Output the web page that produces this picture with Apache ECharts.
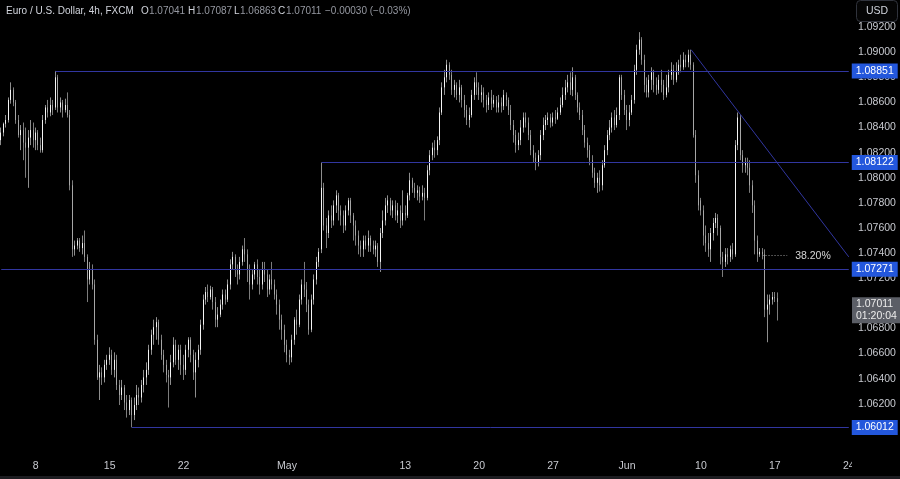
<!DOCTYPE html>
<html><head><meta charset="utf-8">
<script src="https://cdn.jsdelivr.net/npm/echarts/dist/echarts.min.js"></script>
<style>html,body{margin:0;padding:0;background:#000;}#c{width:900px;height:479px;}</style>
</head><body><div id="c"></div>
<script>
// ---- trading calendar (4h bars) ----
const aprDays = [3,4,5,8,9,10,11,12,15,16,17,18,19,22,23,24,25,26,29,30];
const mayDays = [1,2,3,6,7,8,9,10,13,14,15,16,17,20,21,22,23,24,27,28,29,30,31];
const junDays = [3,4,5,6,7,10,11,12,13,14,17,18,19,20,21,24,25,26,27,28];
const barHours = ['00','04','08','12','16','20'];
const tickDays = ['Apr 8','Apr 15','Apr 22','May 1','May 13','May 20','May 27','Jun 3','Jun 10','Jun 17','Jun 24'];
const tickText = ['8','15','22','May','13','20','27','Jun','10','17','24'];

// ---- candles [open, close, low, high] ----
const wk0403 = [
[1.0830,1.0836,1.0826,1.0840],[1.0836,1.0843,1.0833,1.0844],[1.0843,1.0846,1.0840,1.0850],[1.0846,1.0862,1.0844,1.0864],
[1.0862,1.0870,1.0859,1.0876],[1.0870,1.0860,1.0857,1.0872],[1.0860,1.0846,1.0843,1.0862],[1.0846,1.0834,1.0832,1.0850],
[1.0834,1.0838,1.0822,1.0842],[1.0838,1.0828,1.0814,1.0844],[1.0828,1.0824,1.0800,1.0840],[1.0824,1.0832,1.0792,1.0838],
[1.0832,1.0838,1.0826,1.0846],[1.0838,1.0830,1.0824,1.0844]];
const wk0408 = [
[1.0830,1.0836,1.0822,1.0840],[1.0836,1.0826,1.0822,1.0838],[1.0826,1.0822,1.0820,1.0832],[1.0822,1.0846,1.0820,1.0850],
[1.0846,1.0856,1.0843,1.0858],[1.0856,1.0852,1.0848,1.0862],[1.0852,1.0858,1.0849,1.0864],[1.0858,1.0854,1.0850,1.0862],
[1.0856,1.0880,1.0854,1.08851],[1.0880,1.0856,1.0852,1.0882],[1.0856,1.0860,1.0852,1.0864],[1.0860,1.0854,1.0848,1.0862],
[1.0854,1.0858,1.0852,1.0863],[1.0858,1.0850,1.0848,1.0868],[1.0850,1.0794,1.0790,1.0854],[1.0794,1.0743,1.0737,1.0798],
[1.0743,1.0746,1.0738,1.0750],[1.0746,1.0750,1.0743,1.0752],[1.0750,1.0744,1.0741,1.0752],[1.0744,1.0748,1.0739,1.0754],
[1.0748,1.0737,1.0733,1.0758],[1.0737,1.0719,1.0701,1.0739],[1.0719,1.0727,1.0715,1.0733],[1.0727,1.0715,1.0711,1.0731],
[1.0715,1.0671,1.0667,1.0719],[1.0671,1.0641,1.0639,1.0675],[1.0641,1.0645,1.0623,1.0651],[1.0645,1.0641,1.0635,1.0649],
[1.0641,1.0651,1.0637,1.0655],[1.0651,1.0655,1.0647,1.0659]];
const wk0415 = [
[1.0655,1.0659,1.0651,1.0665],[1.0659,1.0647,1.0643,1.0663],[1.0647,1.0655,1.0641,1.0661],[1.0655,1.0635,1.0631,1.0659],
[1.0635,1.0627,1.0619,1.0639],[1.0627,1.0633,1.0623,1.0639],[1.0633,1.0621,1.0615,1.0635],[1.0621,1.0615,1.0609,1.0627],
[1.0615,1.0623,1.0611,1.0627],[1.0623,1.0611,1.06012,1.0625],[1.0611,1.0619,1.0607,1.0625],[1.0619,1.0627,1.0615,1.0635],
[1.0627,1.0625,1.0619,1.0633],[1.0625,1.0635,1.0621,1.0639],[1.0635,1.0641,1.0629,1.0647],[1.0641,1.0647,1.0635,1.0653],
[1.0647,1.0663,1.0643,1.0667],[1.0663,1.0675,1.0659,1.0679],[1.0675,1.0681,1.0667,1.0687],[1.0681,1.0685,1.0671,1.0689],
[1.0685,1.0671,1.0667,1.0687],[1.0671,1.0659,1.0655,1.0675],[1.0659,1.0651,1.0645,1.0663],[1.0651,1.0643,1.0637,1.0655],
[1.0643,1.0641,1.0617,1.0647],[1.0641,1.0653,1.0635,1.0659],[1.0653,1.0667,1.0649,1.0673],[1.0667,1.0655,1.0651,1.0671],
[1.0655,1.0663,1.0647,1.0667],[1.0663,1.0651,1.0643,1.0667]];
const wk0422 = [
[1.0651,1.0647,1.0639,1.0659],[1.0647,1.0663,1.0643,1.0667],[1.0663,1.0671,1.0657,1.0673],[1.0671,1.0659,1.0653,1.0673],
[1.0659,1.0645,1.0639,1.0663],[1.0645,1.0655,1.0625,1.0661],[1.0655,1.0663,1.0649,1.0667],[1.0663,1.0683,1.0659,1.0687],
[1.0683,1.0703,1.0679,1.0707],[1.0703,1.0709,1.0699,1.0713],[1.0709,1.0705,1.0701,1.0715],[1.0705,1.0711,1.0703,1.0714],
[1.0711,1.0701,1.0695,1.0713],[1.0701,1.0687,1.0681,1.0705],[1.0687,1.0691,1.0681,1.0697],[1.0691,1.0699,1.0689,1.0703],
[1.0699,1.0707,1.0695,1.0711],[1.0707,1.0703,1.0699,1.0711],[1.0703,1.0715,1.0701,1.0719],[1.0715,1.0731,1.0711,1.0735],
[1.0731,1.0737,1.0727,1.0741],[1.0737,1.0727,1.0721,1.0739],[1.0727,1.0723,1.0715,1.0731],[1.0723,1.0733,1.0719,1.0737],
[1.0733,1.0743,1.0730,1.0746],[1.0743,1.0739,1.0733,1.0752],[1.0739,1.0727,1.0717,1.0743],[1.0727,1.0715,1.0703,1.0731],
[1.0715,1.0723,1.0711,1.0727],[1.0723,1.0731,1.0719,1.0733]];
const wk0429 = [
[1.0731,1.0721,1.0715,1.0735],[1.0721,1.0715,1.0707,1.0727],[1.0715,1.0727,1.0711,1.0733],[1.0727,1.0723,1.0717,1.0733],
[1.0723,1.0711,1.0705,1.0727],[1.0711,1.0719,1.0707,1.0723],[1.0719,1.0715,1.0711,1.0733],[1.0715,1.0707,1.0703,1.0719],
[1.0707,1.0699,1.0691,1.0711],[1.0699,1.0687,1.0679,1.0703],[1.0687,1.0679,1.0671,1.0691],[1.0679,1.0667,1.0661,1.0683],
[1.0667,1.0659,1.0653,1.0671],[1.0659,1.0657,1.0651,1.0663],[1.0657,1.0671,1.0653,1.0675],[1.0671,1.0687,1.0667,1.0689],
[1.0687,1.0683,1.0675,1.0695],[1.0683,1.0703,1.0681,1.0707],[1.0703,1.0715,1.0699,1.0719],[1.0715,1.0711,1.0705,1.0733],
[1.0711,1.0699,1.0693,1.0717],[1.0699,1.0679,1.0675,1.0703],[1.0679,1.0703,1.0677,1.0707],[1.0703,1.0719,1.0699,1.0723],
[1.0719,1.0733,1.0715,1.0737],[1.0733,1.0741,1.0729,1.0744],[1.0743,1.0792,1.0740,1.08122],[1.0792,1.0762,1.0758,1.0796],
[1.0762,1.0756,1.0744,1.0768],[1.0756,1.0770,1.0752,1.0774]];
const wk0506 = [
[1.0770,1.0766,1.0760,1.0778],[1.0766,1.0778,1.0762,1.0782],[1.0778,1.0786,1.0772,1.0790],[1.0786,1.0774,1.0766,1.0788],
[1.0774,1.0770,1.0762,1.0778],[1.0770,1.0762,1.0756,1.0774],[1.0762,1.0774,1.0758,1.0778],[1.0774,1.0782,1.0770,1.0784],
[1.0782,1.0770,1.0764,1.0784],[1.0770,1.0762,1.0750,1.0772],[1.0762,1.0754,1.0746,1.0766],[1.0754,1.0746,1.0739,1.0758],
[1.0746,1.0743,1.0737,1.0750],[1.0743,1.0750,1.0737,1.0754],[1.0750,1.0746,1.0743,1.0754],[1.0746,1.0752,1.0741,1.0758],
[1.0752,1.0746,1.0741,1.0754],[1.0746,1.0743,1.0739,1.0750],[1.0743,1.0746,1.0737,1.0750],[1.0746,1.0733,1.0729,1.0748],
[1.0733,1.0756,1.0725,1.0760],[1.0756,1.0766,1.0752,1.0774],[1.0766,1.0778,1.0762,1.0784],[1.0778,1.0782,1.0772,1.0786],
[1.0782,1.0774,1.0770,1.0784],[1.0774,1.0778,1.0768,1.0782],[1.0778,1.0770,1.0766,1.0782],[1.0770,1.0774,1.0764,1.0780],
[1.0774,1.0766,1.0760,1.0778],[1.0766,1.0772,1.0762,1.0790]];
const wk0513 = [
[1.0772,1.0770,1.0766,1.0778],[1.0770,1.0786,1.0768,1.0788],[1.0786,1.0798,1.0782,1.0804],[1.0798,1.0792,1.0788,1.0800],
[1.0792,1.0788,1.0784,1.0796],[1.0788,1.0790,1.0782,1.0794],[1.0790,1.0785,1.0780,1.0793],[1.0785,1.0788,1.0782,1.0794],
[1.0788,1.0784,1.0766,1.0792],[1.0784,1.0806,1.0782,1.0810],[1.0806,1.0818,1.0802,1.0822],[1.0818,1.0824,1.0814,1.0828],
[1.0824,1.0822,1.0816,1.0830],[1.0822,1.0830,1.0818,1.0833],[1.0830,1.0852,1.0826,1.0856],[1.0852,1.0872,1.0850,1.0876],
[1.0872,1.0880,1.0866,1.0886],[1.0880,1.0890,1.0876,1.0894],[1.0890,1.0882,1.0878,1.0892],[1.0882,1.0870,1.0866,1.0886],
[1.0870,1.0874,1.0864,1.0878],[1.0874,1.0866,1.0862,1.0876],[1.0866,1.0872,1.0860,1.0878],[1.0872,1.0862,1.0856,1.0874],
[1.0862,1.0854,1.0848,1.0866],[1.0854,1.0846,1.0842,1.0858],[1.0846,1.0850,1.0840,1.0856],[1.0850,1.0866,1.0848,1.0870],
[1.0866,1.0876,1.0862,1.0880],[1.0876,1.0872,1.0866,1.0884]];
const wk0520 = [
[1.0872,1.0866,1.0862,1.0876],[1.0866,1.0868,1.0860,1.0874],[1.0868,1.0862,1.0856,1.0872],[1.0862,1.0858,1.0852,1.0866],
[1.0858,1.0864,1.0854,1.0868],[1.0864,1.0859,1.0854,1.0870],[1.0859,1.0862,1.0856,1.0866],[1.0862,1.0856,1.0852,1.0865],
[1.0856,1.0860,1.0852,1.0866],[1.0860,1.0857,1.0852,1.0864],[1.0857,1.0866,1.0854,1.0870],[1.0866,1.0862,1.0857,1.0868],
[1.0862,1.0854,1.0850,1.0864],[1.0854,1.0842,1.0838,1.0858],[1.0842,1.0834,1.0828,1.0846],[1.0834,1.0826,1.0820,1.0838],
[1.0826,1.0830,1.0822,1.0836],[1.0830,1.0840,1.0826,1.0846],[1.0840,1.0848,1.0836,1.0852],[1.0848,1.0844,1.0840,1.0852],
[1.0844,1.0834,1.0830,1.0848],[1.0834,1.0822,1.0818,1.0838],[1.0822,1.0816,1.0812,1.0826],[1.0816,1.0812,1.0806,1.0820],
[1.0812,1.0818,1.0809,1.0822],[1.0818,1.0834,1.0814,1.0838],[1.0834,1.0842,1.0830,1.0848],[1.0842,1.0846,1.0838,1.0850],
[1.0846,1.0848,1.0842,1.0852],[1.0848,1.0844,1.0840,1.0851]];
const wk0527 = [
[1.0844,1.0848,1.0841,1.0852],[1.0848,1.0847,1.0843,1.0854],[1.0847,1.0852,1.0846,1.0856],[1.0852,1.0858,1.0850,1.0864],
[1.0858,1.0866,1.0856,1.0872],[1.0866,1.0872,1.0862,1.0878],[1.0872,1.0876,1.0868,1.0882],[1.0876,1.0870,1.0866,1.0884],
[1.0870,1.0880,1.0865,1.0888],[1.0880,1.0866,1.0862,1.0882],[1.0866,1.0856,1.0852,1.0868],[1.0856,1.0850,1.0846,1.0860],
[1.0850,1.0838,1.0834,1.0854],[1.0838,1.0828,1.0824,1.0842],[1.0828,1.0822,1.0816,1.0832],[1.0822,1.0814,1.0810,1.0826],
[1.0814,1.0804,1.0800,1.0818],[1.0804,1.0796,1.0792,1.0808],[1.0796,1.0800,1.0788,1.0804],[1.0800,1.0794,1.0789,1.0806],
[1.0794,1.0810,1.0790,1.0814],[1.0810,1.0822,1.0808,1.0826],[1.0822,1.0834,1.0818,1.0838],[1.0834,1.0840,1.0830,1.0846],
[1.0840,1.0848,1.0836,1.0852],[1.0848,1.0842,1.0838,1.0854],[1.0842,1.0850,1.0840,1.0856],[1.0850,1.0880,1.0846,1.0882],
[1.0880,1.0866,1.0862,1.0882],[1.0866,1.0854,1.0850,1.0870]];
const wk0603 = [
[1.0854,1.0846,1.0838,1.0858],[1.0846,1.0852,1.0841,1.0858],[1.0852,1.0862,1.0850,1.0866],[1.0862,1.0886,1.0859,1.0890],
[1.0886,1.0902,1.0882,1.0906],[1.0902,1.0910,1.0898,1.0916],[1.0910,1.0894,1.0890,1.0912],[1.0894,1.0874,1.0868,1.0898],
[1.0874,1.0868,1.0864,1.0880],[1.0868,1.0878,1.0864,1.0882],[1.0878,1.0884,1.0870,1.0888],[1.0884,1.0874,1.0868,1.0886],
[1.0874,1.0870,1.0866,1.0880],[1.0870,1.0878,1.0867,1.0882],[1.0878,1.0874,1.0868,1.0886],[1.0874,1.0866,1.0862,1.0878],
[1.0866,1.0872,1.0864,1.0882],[1.0872,1.0882,1.0868,1.0886],[1.0882,1.0886,1.0878,1.0892],[1.0886,1.0878,1.0874,1.0890],
[1.0878,1.0884,1.0876,1.0892],[1.0884,1.0890,1.0882,1.0894],[1.0890,1.0888,1.0884,1.0898],[1.0888,1.0894,1.0886,1.0900],
[1.0894,1.0892,1.0888,1.0898],[1.0892,1.0898,1.0888,1.0902],[1.0898,1.0890,1.0886,1.0902],[1.0890,1.0834,1.0832,1.0892],
[1.0834,1.0802,1.0796,1.0838],[1.0802,1.0778,1.0774,1.0806]];
const wk0610 = [
[1.0782,1.0774,1.0770,1.0784],[1.0774,1.0754,1.0746,1.0778],[1.0754,1.0748,1.0741,1.0762],[1.0748,1.0743,1.0737,1.0756],
[1.0743,1.0756,1.0733,1.0760],[1.0756,1.0764,1.0750,1.0768],[1.0764,1.0768,1.0760,1.0772],[1.0768,1.0760,1.0754,1.0771],
[1.0760,1.0737,1.0731,1.0762],[1.0737,1.0733,1.0721,1.0741],[1.0733,1.0739,1.0729,1.0744],[1.0739,1.0737,1.0731,1.0744],
[1.0737,1.0743,1.0733,1.0746],[1.0743,1.0739,1.0735,1.0748],[1.0739,1.0826,1.0737,1.0830],[1.0826,1.0848,1.0822,1.0852],
[1.0848,1.0818,1.0814,1.0850],[1.0818,1.0810,1.0804,1.0822],[1.0810,1.0812,1.0804,1.0816],[1.0812,1.0808,1.0802,1.0816],
[1.0808,1.0794,1.0788,1.0814],[1.0794,1.0778,1.0772,1.0798],[1.0778,1.0750,1.0739,1.0782],[1.0750,1.0739,1.0733,1.0754],
[1.0739,1.0741,1.0737,1.0744],[1.0741,1.0739,1.0735,1.0744],[1.0739,1.0695,1.0689,1.0743],[1.0695,1.0699,1.0669,1.0707],
[1.0699,1.0703,1.0691,1.0707],[1.0703,1.0705,1.0699,1.0709]];
const wk0617 = [
[1.0705,1.0704,1.0701,1.0709],[1.07041,1.07011,1.06863,1.07087]];

// ---- annotations ----
const levelPrices = [1.08851, 1.08122, 1.07271, 1.06012];
const levelFromBar = [22, 130, 0, 53];
const trendStart = [280, 1.0902];
const trendEnd = [344, 1.0737];
const fibPrice = 1.0738, fibFromBar = 309, fibToBar = 319, fibText = '38.20%';
const lastPrice = 1.07011, countdown = '01:20:04';
const headerTitle = 'Euro / U.S. Dollar, 4h, FXCM';
const headerVals = [['O','1.07041'],['H','1.07087'],['L','1.06863'],['C','1.07011']];
const headerChange = '\u22120.00030 (\u22120.03%)';

// ---- build ----
const allBars = [];
[['Apr', aprDays], ['May', mayDays], ['Jun', junDays]].forEach(([m, ds]) =>
  ds.forEach(d => barHours.forEach(h => allBars.push(m + ' ' + d + ' ' + h + ':00'))));
const categories = allBars.slice(4, 4 + 345);
const tickMap = {};
tickDays.forEach((d, i) => { tickMap[d + ' 00:00'] = tickText[i]; });
const candles = [].concat(wk0403, wk0408, wk0415, wk0422, wk0429, wk0506, wk0513, wk0520, wk0527, wk0603, wk0610, wk0617);
// body-only copy (open, close, body low, body high) drawn over grey wicks
const bodies = candles.map(c => [c[0], c[1], Math.min(c[0], c[1]), Math.max(c[0], c[1])]);
const lastBar = categories.length - 1;

const FONT = "'Liberation Sans', Arial, sans-serif";
const LINE = '#3136a0';
const BLUE = '#2357dc';
const LSTYLE = { color: LINE, width: 1, type: 'solid', opacity: 1 };

function boxLabel(text) {
  return { show: true, position: 'end', distance: 3, formatter: text, color: '#ffffff',
    backgroundColor: BLUE, padding: [2, 4, 1, 4], fontSize: 10.5, lineHeight: 12, fontFamily: FONT };
}
const markData = levelPrices.map((p, k) => [
  { coord: [levelFromBar[k], p], lineStyle: LSTYLE, label: boxLabel(p.toFixed(5)) },
  { coord: [lastBar, p], lineStyle: LSTYLE, label: boxLabel(p.toFixed(5)) }
]);
markData.push([
  { coord: trendStart, lineStyle: LSTYLE, label: { show: false } },
  { coord: trendEnd, lineStyle: LSTYLE, label: { show: false } }
]);
const fibStyle = { color: '#9a9a9a', width: 1, type: [1, 2], opacity: 1 };
const fibLabel = { show: true, position: 'end', distance: 8, formatter: fibText, color: '#d6d6d6', fontSize: 10.5, fontFamily: FONT };
markData.push([
  { coord: [fibFromBar, fibPrice], lineStyle: fibStyle, label: fibLabel },
  { coord: [fibToBar, fibPrice], lineStyle: fibStyle, label: fibLabel }
]);

const priceLabel = { show: true, position: 'end', distance: 2, offset: [0, 7],
  formatter: lastPrice.toFixed(5) + '\n' + countdown, color: '#ececec',
  backgroundColor: '#5b5e66', padding: [1, 4, 1, 4], fontSize: 10.5, lineHeight: 12, fontFamily: FONT };

const graphics = [
  { type: 'text', x: 6, y: 11, z: 100, style: { text: headerTitle, fill: '#d1d4dc', font: '10px ' + FONT, verticalAlign: 'middle' } }
];
const hx = [141, 188, 234, 278];
headerVals.forEach((hv, k) => {
  graphics.push({ type: 'text', x: hx[k], y: 11, z: 100, style: { text: hv[0], fill: '#d1d4dc', font: '10px ' + FONT, verticalAlign: 'middle' } });
  graphics.push({ type: 'text', x: hx[k] + (hv[0] === 'L' ? 6 : 8), y: 11, z: 100, style: { text: hv[1], fill: '#9598a1', font: '10px ' + FONT, verticalAlign: 'middle' } });
});
graphics.push({ type: 'text', x: 325, y: 11, z: 100, style: { text: headerChange, fill: '#9598a1', font: '10px ' + FONT, verticalAlign: 'middle' } });
graphics.push({ type: 'rect', z: 100, shape: { x: 856.5, y: 0.5, width: 41, height: 21, r: 4 }, style: { fill: '#050505', stroke: '#30333c', lineWidth: 1 } });
graphics.push({ type: 'text', x: 877, y: 11, z: 101, style: { text: 'USD', fill: '#d1d4dc', font: '10.5px ' + FONT, align: 'center', verticalAlign: 'middle' } });
graphics.push({ type: 'rect', z: 100, shape: { x: 852, y: 456, width: 48, height: 19 }, style: { fill: '#000' } });
graphics.push({ type: 'rect', z: 100, shape: { x: 0, y: 476, width: 900, height: 3 }, style: { fill: '#1c1c20' } });

const chart = echarts.init(document.getElementById('c'), null, { renderer: 'canvas' });
chart.setOption({
  backgroundColor: '#000000',
  animation: false,
  grid: { left: 0, right: 50, top: 2, bottom: 25, containLabel: false, outerBoundsMode: 'none' },
  xAxis: {
    type: 'category', data: categories, boundaryGap: true,
    axisLine: { show: false }, axisTick: { show: false }, splitLine: { show: false },
    axisLabel: {
      interval: (idx, val) => val in tickMap,
      formatter: (val) => tickMap[val] || '',
      color: '#c8cad0', fontSize: 10.5, fontFamily: FONT, margin: 7
    }
  },
  yAxis: {
    type: 'value', position: 'right', min: 1.058, max: 1.094, interval: 0.002, scale: true,
    axisLine: { show: false }, axisTick: { show: false }, splitLine: { show: false },
    axisLabel: {
      color: '#c8cad0', fontSize: 10.5, fontFamily: FONT, margin: 8,
      formatter: (v) => (v < 1.0585 || v > 1.0935) ? '' : v.toFixed(5)
    }
  },
  series: [{
    type: 'candlestick',
    name: 'wicks',
    data: candles,
    barWidth: 1,
    itemStyle: { color: '#8e8e8e', color0: '#7c7c7c', borderColor: '#8e8e8e', borderColor0: '#7c7c7c', borderWidth: 1 },
    markLine: { symbol: ['none', 'none'], silent: true, animation: false, lineStyle: LSTYLE, data: markData }
  }, {
    type: 'candlestick',
    name: 'bodies',
    data: bodies,
    barWidth: 1,
    itemStyle: { color: '#f4f4f4', color0: '#a6a6a6', borderColor: '#f4f4f4', borderColor0: '#a6a6a6', borderWidth: 1 },
    markLine: { symbol: ['none', 'none'], silent: true, animation: false,
      lineStyle: { color: 'rgba(0,0,0,0)', width: 1 },
      data: [{ yAxis: lastPrice, label: priceLabel, lineStyle: { color: 'rgba(0,0,0,0)', width: 1 } }] }
  }],
  graphic: graphics
});
</script></body></html>
